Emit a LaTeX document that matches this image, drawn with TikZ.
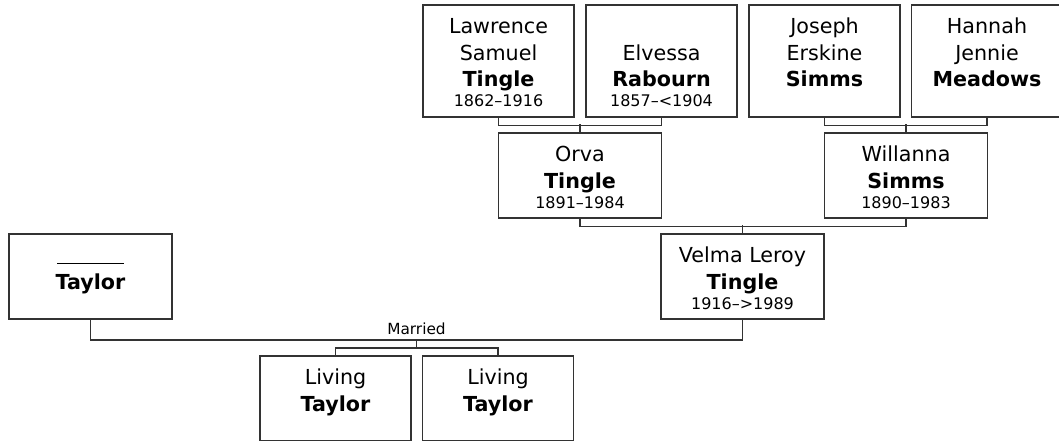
\documentclass[tikz,border=0pt]{standalone}
\usepackage{fontspec}
\setmainfont{DejaVu Sans}
\newcommand{\namefont}{\fontsize{15.5}{20}\selectfont}
\newcommand{\datefont}{\fontsize{12}{15}\selectfont}
\newcommand{\dates}[1]{{\datefont\vphantom{0}#1}}
\tikzset{
  person/.style={draw=black!80, line width=0.9pt, align=center, inner sep=0pt, font=\namefont},
  topbox/.style={person, minimum width=113.25pt, minimum height=84pt},
  midbox/.style={person, minimum width=122.25pt, minimum height=63.75pt},
  kidbox/.style={person, minimum width=113.25pt, minimum height=63.75pt},
  link/.style={draw=black!80, line width=0.9pt}
}
\begin{document}
\begin{tikzpicture}[x=0.75pt, y=-0.75pt]
  \useasboundingbox (0,0) rectangle (1059,440);
  % grandparents
  \node[topbox] (lawrence) at (498.5,61) {\strut Lawrence\\Samuel\\\textbf{Tingle}\\[-5pt]\dates{1862–1916}};
  \node[topbox] (elvessa) at (661.5,61) {\strut\\Elvessa\\\textbf{Rabourn}\\[-5pt]\dates{1857–<1904}};
  \node[topbox] (joseph) at (824.5,61) {\strut Joseph\\Erskine\\\textbf{Simms}\\[-5pt]\dates{}};
  \node[topbox] (hannah) at (987,61) {\strut Hannah\\Jennie\\\textbf{Meadows}\\[-5pt]\dates{}};
  % parents
  \node[midbox] (orva) at (580,175.5) {\strut Orva\\\textbf{Tingle}\\[-5pt]\dates{1891–1984}};
  \node[midbox] (willanna) at (906,175.5) {\strut Willanna\\\textbf{Simms}\\[-5pt]\dates{1890–1983}};
  \draw[link] (lawrence.south) -- ++(0,8) -| (elvessa.south);
  \draw[link] (orva.north) -- ++(0,-8);
  \draw[link] (joseph.south) -- ++(0,8) -| (hannah.south);
  \draw[link] (willanna.north) -- ++(0,-8);
  % couple
  \node[midbox] (taylor) at (90.5,276.5) {\strut\rule[-1.5pt]{50pt}{0.75pt}\\\textbf{Taylor}\\[-5pt]\dates{}};
  \node[midbox] (velma) at (742.5,276.5) {\strut Velma Leroy\\\textbf{Tingle}\\[-5pt]\dates{1916–>1989}};
  \draw[link] (orva.south) -- ++(0,8) -| (willanna.south);
  \draw[link] (velma.north) -- ++(0,-8);
  \coordinate (wed) at (416.5,340);
  \draw[link] (taylor.south) |- (wed) -| (velma.south);
  \node[above=3.5pt, inner sep=0pt, font=\fontsize{11.5}{14}\selectfont] (married) at (wed) {Married};
  % children
  \node[kidbox] (living1) at (335.5,398.5) {\strut Living\\\textbf{Taylor}\\[-5pt]\dates{}};
  \node[kidbox] (living2) at (498,398.5) {\strut Living\\\textbf{Taylor}\\[-5pt]\dates{}};
  \draw[link] (wed) -- ++(0,8) -| (living1.north);
  \draw[link] (wed) ++(0,8) -| (living2.north);
\end{tikzpicture}
\end{document}
